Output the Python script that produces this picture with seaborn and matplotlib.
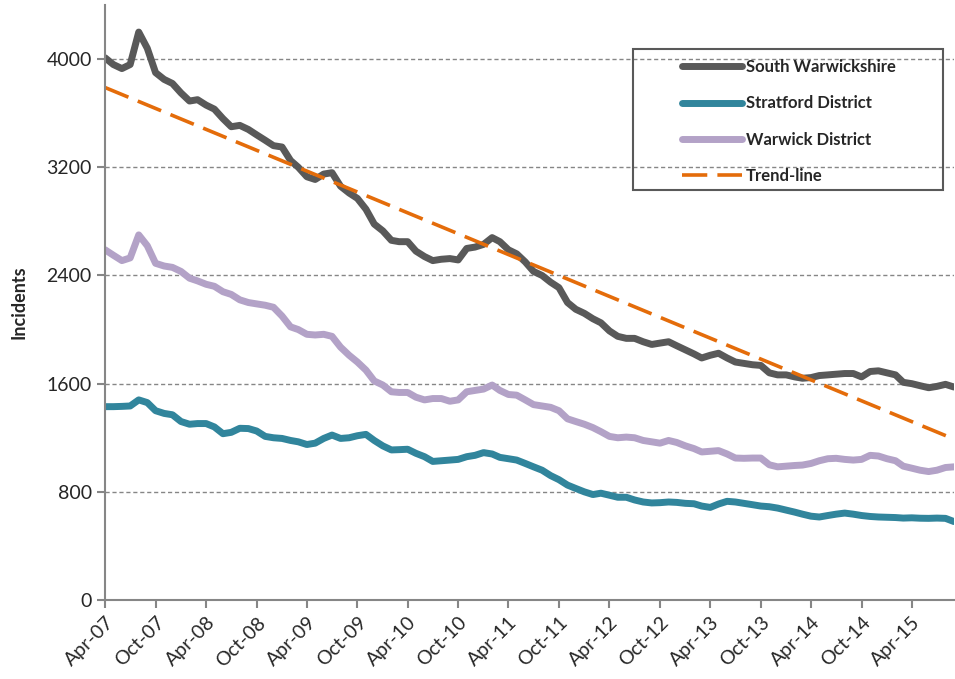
import numpy as np
import pandas as pd
import matplotlib
matplotlib.use('Agg')
import matplotlib.pyplot as plt
from matplotlib.patches import Rectangle
import seaborn as sns

# monthly rolling totals, Apr-07 .. Sep-15
months = pd.date_range('2007-04-01', periods=102, freq='MS')

south_warwickshire = [
    4010, 3960, 3930, 3960, 4200, 4080, 3900, 3850, 3820, 3750,
    3690, 3700, 3660, 3630, 3560, 3500, 3510, 3480, 3440, 3400,
    3360, 3350, 3250, 3200, 3130, 3110, 3150, 3160, 3060, 3010,
    2970, 2890, 2780, 2730, 2660, 2650, 2650, 2580, 2540, 2510,
    2520, 2525, 2515, 2600, 2610, 2630, 2680, 2650, 2590, 2560,
    2500, 2430, 2400, 2350, 2310, 2200, 2150, 2120, 2080, 2050,
    1990, 1950, 1935, 1935, 1910, 1890, 1900, 1910, 1880, 1850,
    1820, 1790, 1810, 1825, 1790, 1760, 1750, 1740, 1735, 1680,
    1665, 1665, 1650, 1640, 1645, 1660, 1665, 1670, 1675, 1675,
    1650, 1690, 1695, 1680, 1665, 1610, 1600, 1585, 1570, 1580,
    1595, 1575,
]
stratford = [
    1430, 1430, 1432, 1435, 1480, 1460, 1400, 1380, 1370, 1320,
    1300, 1305, 1305, 1280, 1230, 1240, 1270, 1268, 1250, 1210,
    1200, 1195, 1180, 1170, 1150, 1160, 1195, 1220, 1195, 1200,
    1215, 1225, 1180, 1140, 1110, 1112, 1115, 1085, 1060, 1025,
    1030, 1035, 1040, 1060, 1070, 1090, 1080, 1055, 1045, 1035,
    1010, 985, 960, 920, 890, 850, 825, 800, 780, 790,
    775, 760, 760, 740, 725, 718, 720, 725, 722, 715,
    712, 695, 685, 710, 730, 725, 715, 705, 695, 690,
    680, 665, 650, 635, 620, 614, 625, 635, 643, 635,
    625, 618, 614, 612, 610, 606, 608, 605, 604, 606,
    604, 580,
]
warwick = [
    2590, 2550, 2510, 2530, 2700, 2620, 2490, 2470, 2460, 2430,
    2380, 2360, 2335, 2320, 2280, 2260, 2220, 2200, 2190, 2180,
    2165, 2100, 2020, 2000, 1965, 1960, 1965, 1950, 1870, 1810,
    1760, 1700, 1620, 1590, 1540, 1535, 1535, 1500, 1480, 1490,
    1490, 1470, 1480, 1540, 1550, 1560, 1590, 1550, 1520, 1515,
    1480, 1445, 1435, 1425, 1400, 1340, 1320, 1300, 1275, 1245,
    1210, 1200, 1205, 1200, 1180, 1170, 1160, 1180, 1165, 1140,
    1120, 1095, 1100, 1105, 1080, 1050, 1048, 1050, 1050, 1000,
    985, 990, 995, 998, 1010, 1030, 1045, 1048, 1040, 1035,
    1040, 1070, 1065, 1045, 1030, 990, 975, 960, 950, 960,
    980, 985,
]
trend_ends = [3790, 1190]

areas = ['South Warwickshire', 'Stratford District', 'Warwick District']
colors = ['#595959', '#31859C', '#B3A2C7']
trend_color = '#E46C0A'

df = pd.DataFrame({
    'Month': np.tile(months, 3),
    'Incidents': south_warwickshire + stratford + warwick,
    'Area': np.repeat(areas, len(months)),
})

sns.set_style('white')
plt.rcParams['font.family'] = ['Lato', 'DejaVu Sans']

fig = plt.figure(figsize=(9.55, 6.79), dpi=100)
ax = fig.add_axes([0.11, 0.1163, 0.889, 0.8763])

sns.lineplot(data=df, x='Month', y='Incidents', hue='Area', hue_order=areas,
             palette=colors, linewidth=5, legend=False, ax=ax,
             solid_capstyle='round')
sns.lineplot(x=[months[0], months[-1]], y=trend_ends, color=trend_color,
             linewidth=2.6, ax=ax, dashes=False, linestyle=(0, (7, 2.8)))

ax.set_xlim(months[0], months[-1])
ax.set_ylim(0, 4400)
ax.set_yticks(range(0, 4001, 800))
ax.set_yticklabels([str(v) for v in range(0, 4001, 800)], fontsize=14)
tick_months = months[::6]
ax.set_xticks(tick_months)
ax.set_xticklabels([d.strftime('%b-%y') for d in tick_months], fontsize=14,
                   rotation=45, ha='right', rotation_mode='anchor')

ax.yaxis.grid(True, linestyle=(0, (3, 2)), color='#868686', linewidth=1)
ax.get_ygridlines()[0].set_visible(False)
ax.xaxis.grid(False)
for s in ['top', 'right']:
    ax.spines[s].set_visible(False)
for s in ['left', 'bottom']:
    ax.spines[s].set_color('#868686')
    ax.spines[s].set_linewidth(1.5)
ax.tick_params(axis='both', which='major', length=6, width=1.5, color='#868686',
               direction='out', bottom=True, left=True)
ax.tick_params(axis='x', pad=4)

ax.set_xlabel('')
ax.set_ylabel('Incidents', fontsize=13, fontweight='bold', labelpad=14)

handles = ax.get_lines()[:4]
leg = ax.legend(handles, areas + ['Trend-line'], loc='upper left',
                bbox_to_anchor=(682 / 955, 1 - 59 / 679),
                bbox_transform=fig.transFigure, frameon=False,
                handlelength=3.6, handletextpad=0.25, labelspacing=1.22,
                borderpad=0, borderaxespad=0,
                prop={'size': 12, 'weight': 'bold'})
fig.patches.append(Rectangle((633 / 955, 1 - 190 / 679), 310 / 955, 141 / 679,
                             transform=fig.transFigure, fill=False,
                             edgecolor='#595959', linewidth=1.5))

fig.savefig('out.png', dpi=100)
